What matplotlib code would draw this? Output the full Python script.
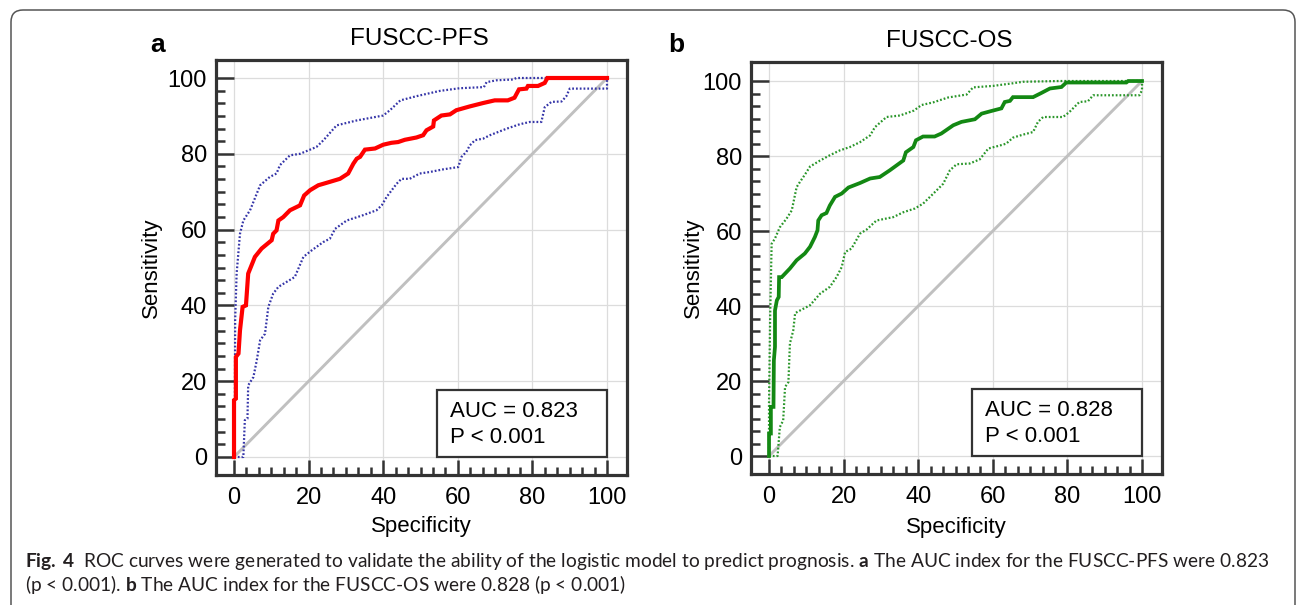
import matplotlib
matplotlib.use("Agg")
import matplotlib.pyplot as plt
import numpy as np
from matplotlib.patches import Rectangle, FancyBboxPatch
from matplotlib.transforms import IdentityTransform

plt.rcParams["font.family"] = ["Liberation Sans", "DejaVu Sans"]
plt.rcParams["mathtext.fontset"] = "custom"
plt.rcParams["mathtext.rm"] = "Lato"
plt.rcParams["mathtext.bf"] = "Lato:bold"

# ---- data (specificity %, sensitivity %) ----
pfs_x = [0, 0, 0.5, 0.5, 1.2, 1.6, 2.3, 3.2, 3.8, 4.5, 5.6, 7.4, 10.1, 10.5, 11.4, 11.9,
         13.2, 15, 17.7, 18.8, 20.4, 22.6, 25.7, 28.4, 30.6, 32, 32.9, 33.8, 35.1, 37.8,
         40, 42.2, 44, 45.8, 48.9, 50.7, 51.6, 53.4, 53.6, 55.6, 57.9, 59.6, 63.2, 66.8,
         69.9, 73.4, 75.2, 76.4, 78.4, 78.8, 81.5, 83.3, 83.9, 84, 100]
pfs_y = [0, 15, 15.4, 26.4, 27.3, 33.4, 39.6, 40, 48.4, 50.1, 52.8, 55, 57.2, 58.9, 59.8, 62.4,
         63.3, 65.1, 66.4, 69, 70.4, 71.7, 72.6, 73.4, 74.8, 77.4, 78.7, 79.2, 81.1, 81.4,
         82.4, 82.9, 83.1, 83.7, 84.3, 84.9, 86.2, 87.2, 88.8, 90.1, 90.4, 91.5, 92.5, 93.4,
         94.1, 94.1, 94.8, 97, 97.2, 97.9, 97.9, 98.7, 99.8, 100, 100]

pfs_hi_x = [0.2, 0.3, 0.7, 1.6, 2.5, 4.3, 6.1, 7, 9.6, 11.4, 12.3, 15, 17.7, 22.1, 24, 27.5,
            32.9, 40, 41.8, 44.6, 48.9, 55.2, 60.5, 67, 67.7, 70.4, 74.8, 75.7, 100]
pfs_hi_y = [0, 36, 48.4, 58.9, 62.4, 65.1, 69.5, 71.7, 73.9, 74.8, 77, 79.6, 80, 81.8, 83.6, 87.5,
            88.8, 90.1, 91.5, 94.1, 95.2, 96.6, 97.3, 97.6, 98.9, 99.4, 99.6, 100, 100]

pfs_lo_x = [0, 2.5, 2.9, 3.6, 3.8, 5.2, 6.1, 7, 8.3, 9.2, 10.5, 11.9, 14.1, 16.3, 18.6, 20.8,
            23.9, 25.7, 27.1, 30.2, 34.6, 38.2, 39.6, 40.9, 43.6, 44.9, 47.1, 49.8, 52.5, 56.1,
            60.1, 61, 62.3, 63.2, 64.6, 66.8, 68.6, 73, 76.6, 79.3, 82.4, 83.3, 85.1, 87.8,
            89.1, 90, 100, 100]
pfs_lo_y = [0, 0, 9.7, 10.1, 18.9, 21.1, 25.5, 30.8, 32.5, 39.6, 43.1, 44.9, 46.2, 47.5, 52.8, 54.5,
            56.7, 57.6, 60.2, 62.4, 63.8, 65.1, 66.4, 68.6, 72.1, 73.4, 73.4, 74.8, 75.2, 75.9,
            76.5, 79.2, 80.5, 82.2, 83.6, 84, 84.9, 86.6, 87.8, 88.4, 88.4, 92.3, 93.7, 93.8,
            95.2, 97.2, 97.2, 100]

os_x = [0, 0, 0.5, 0.5, 1.2, 1.3, 1.6, 1.6, 2.1, 2.6, 2.7, 3.4, 5.6, 7.4, 9.6, 11, 12.3, 13,
        13.2, 14.1, 15.4, 16.3, 17.7, 19.5, 21.3, 24.4, 27.1, 29.7, 32.4, 36, 36.7, 38.7,
        39.4, 41.3, 44.4, 46.2, 49.4, 51.6, 55.2, 57, 59.6, 62.3, 63.2, 64.6, 65.4, 70.8,
        73, 75.3, 78.4, 79.7, 95.8, 96.3, 100]
os_y = [0, 6, 6, 13.1, 13.1, 25.5, 29.1, 38.8, 41.5, 42.4, 47.7, 47.7, 50, 52.2, 54, 55.8, 58.4,
        60.2, 62.8, 64.2, 64.8, 66.8, 69.1, 70, 71.6, 72.8, 74, 74.4, 76.2, 78.8, 81, 82.4,
        84.2, 85.2, 85.2, 86, 88.2, 89.1, 89.8, 91.3, 92, 92.7, 94.4, 94.7, 95.7, 95.7,
        96.8, 98, 98.4, 99.6, 99.6, 100, 100]

os_hi_x = [0, 0, 0.3, 0.7, 1.6, 2.9, 4.7, 6.1, 7.4, 8.3, 9.6, 11, 13.7, 16.3, 19, 21.7, 24.4,
           27.1, 28.4, 31.5, 35.1, 38.8, 40.9, 44, 48, 53, 54.7, 60.1, 65.4, 68.1, 77.9, 100]
os_hi_y = [0, 14, 37, 56.6, 58, 61, 63.3, 65.5, 71.7, 73.1, 75, 77.2, 78.8, 80.2, 81.5, 82.4, 83.7,
           85.5, 87.7, 90.4, 90.8, 92.1, 93.6, 94.3, 95.6, 96.4, 98.3, 98.7, 99.4, 99.8, 100, 100]

os_lo_x = [0, 2.3, 2.9, 3.8, 4.3, 5.2, 5.6, 6.5, 7, 8.3, 11, 13.7, 16.3, 18.1, 19.5, 20.4, 22.1,
           24.4, 26.2, 28.8, 33.3, 36, 39.1, 41.3, 44.9, 46.7, 48.5, 50.3, 53.8, 56.5, 58.8,
           61.9, 63.6, 65.4, 68.1, 70.8, 72.1, 73.5, 78.8, 80.5, 83.2, 85.5, 86.9, 99.3, 100, 100]
os_lo_y = [0, 0, 7.7, 9.5, 18.4, 19.7, 30, 33.5, 38.1, 38.8, 40.2, 43.3, 45.1, 47.7, 50.4, 54.4, 55.3,
           59.3, 60.4, 62.8, 63.7, 65, 66, 67.3, 70.8, 72.6, 76.2, 77.8, 78, 79.1, 82,
           82.8, 83.3, 84.9, 85.7, 86.4, 89.1, 90.4, 90.4, 91.7, 94.4, 94.6, 96.2, 96.2, 97.5, 100]

titles = ["FUSCC-PFS", "FUSCC-OS"]
letters = ["a", "b"]
auc_text = ["AUC = 0.823", "AUC = 0.828"]
p_text = ["P < 0.001", "P < 0.001"]

W, H = 1298, 605
fig = plt.figure(figsize=(W / 100, H / 100), dpi=100)
fig.patch.set_facecolor("white")

# outer rounded frame (pixel coords)
frame = FancyBboxPatch((11, -30), 1284, 625, boxstyle="round,pad=0,rounding_size=12",
                       transform=IdentityTransform(), fill=False, ec="#555555", lw=1.1)
fig.add_artist(frame)

ax_a = fig.add_axes([216 / W, 1 - 475 / H, 411 / W, 415 / H])
ax_b = fig.add_axes([751 / W, 1 - 474 / H, 411 / W, 412 / H])

panels = [
    (ax_a, pfs_x, pfs_y, pfs_hi_x, pfs_hi_y, pfs_lo_x, pfs_lo_y, "#ff0000", "#3535a8",
     (-4.75, 104.75), 0.496, -0.156, -0.125, 3.0),
    (ax_b, os_x, os_y, os_hi_x, os_hi_y, os_lo_x, os_lo_y, "#138813", "#2a962a",
     (-4.8, 105.07), 0.482, -0.141, -0.129, 2.7),
]

for i, (ax, x, y, hx, hy, lx, ly, col, ci_col, ylim, tx, ylx, xly, lw) in enumerate(panels):
    ax.set_xlim(-4.83, 105.36)
    ax.set_ylim(*ylim)
    ax.grid(True, color="#dcdcdc", lw=0.9, zorder=0)
    ax.set_axisbelow(True)
    ax.plot([0, 100], [0, 100], color="#c0c0c0", lw=2.1, zorder=2)
    ax.plot(hx, hy, color=ci_col, lw=1.6, ls=(0, (0.8, 0.9)), zorder=3)
    ax.plot(lx, ly, color=ci_col, lw=1.6, ls=(0, (0.8, 0.9)), zorder=3)
    ax.plot(x, y, color=col, lw=lw, zorder=4, solid_joinstyle="miter")

    ax.set_xticks(np.arange(0, 101, 20))
    ax.set_yticks(np.arange(0, 101, 20))
    ax.set_xticks(np.linspace(0, 100, 31), minor=True)
    ax.set_yticks(np.linspace(0, 100, 31), minor=True)
    ax.tick_params(axis="both", which="both", direction="in", color="#333333", width=1.8,
                   labelsize=17)
    ax.tick_params(axis="y", which="major", length=13, pad=6.5)
    ax.tick_params(axis="y", which="minor", length=6.5)
    ax.tick_params(axis="x", which="major", length=11, pad=8.5)
    ax.tick_params(axis="x", which="minor", length=6)
    for s in ax.spines.values():
        s.set_linewidth(2.3)
        s.set_color("#333333")

    ax.add_patch(Rectangle((54.3, 0), 45.7, 17.8, facecolor="white", edgecolor="#333333",
                           lw=1.6, zorder=5))
    ax.text(57.9, 10.6, auc_text[i], fontsize=16, va="baseline", ha="left", zorder=6)
    ax.text(57.9, 3.7, p_text[i], fontsize=16, va="baseline", ha="left", zorder=6)

    ax.set_xlabel("Specificity", fontsize=16, va="center")
    ax.xaxis.set_label_coords(0.5, xly)
    ax.set_ylabel("Sensitivity", fontsize=16, va="center")
    ax.yaxis.set_label_coords(ylx, 0.5)
    ax.text(tx, 1.036, titles[i], transform=ax.transAxes, fontsize=17.5, ha="center",
            va="baseline")

fig.text(150 / W, 1 - 52 / H, letters[0], fontsize=19, fontweight="bold", va="baseline")
fig.text(668 / W, 1 - 52 / H, letters[1], fontsize=19, fontweight="bold", va="baseline")

# caption (one text block, two lines)
cap1 = (r"$\mathbf{Fig.\,4}$  ROC curves were generated to validate the ability of the logistic "
        r"model to predict prognosis. $\mathbf{a}$ The AUC index for the FUSCC-PFS were 0.823")
cap2 = r"(p < 0.001). $\mathbf{b}$ The AUC index for the FUSCC-OS were 0.828 (p < 0.001)"
probe = fig.text(0, 0, cap1, family="Lato", fontsize=12)
r = fig.canvas.get_renderer()
size = 12 * 1240 / probe.get_window_extent(r).width
probe.remove()
fig.text(25 / W, 1 - 551 / H, cap1 + "\n" + cap2, family="Lato", fontsize=size,
         color="#231f20", va="top", linespacing=1.05)

fig.savefig("out.png", dpi=100)
